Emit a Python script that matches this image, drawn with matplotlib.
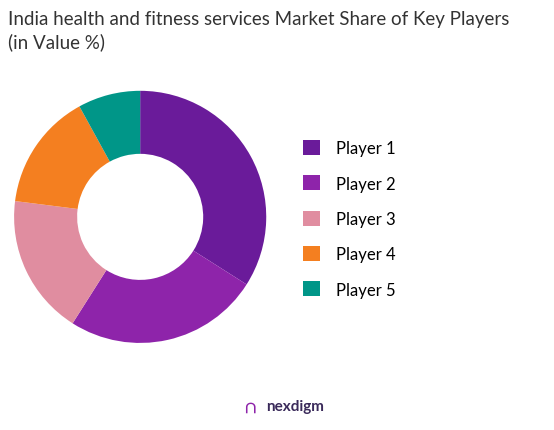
import matplotlib.pyplot as plt
from matplotlib.patches import Patch

players = ["Player 1", "Player 2", "Player 3", "Player 4", "Player 5"]
shares = [34, 25, 18, 15, 8]
colors = ["#6A1B9A", "#8E24AA", "#E08DA0", "#F47F20", "#009688"]

plt.rcParams['font.family'] = ['Lato', 'DejaVu Sans']

fig = plt.figure(figsize=(5.54, 4.31), dpi=100)
ax = fig.add_axes([0.025, 0.202, 0.456, 0.585])
ax.pie(shares, colors=colors, startangle=90, counterclock=False,
       wedgeprops=dict(width=0.5, edgecolor='white', linewidth=0))
ax.set_xlim(-1, 1)
ax.set_ylim(-1, 1)
ax.set_aspect('equal')

fig.text(0.015, 0.975, "India health and fitness services Market Share of Key Players\n(in Value %)",
         ha='left', va='top', fontsize=13.5, color='#333333', linespacing=1.4)

handles = [Patch(facecolor=c) for c in colors]
fig.legend(handles, players, loc='center left', bbox_to_anchor=(0.52, 0.49),
           frameon=False, fontsize=12, handlelength=1.0, handleheight=1.0,
           labelspacing=1.15, handletextpad=1.0)

fig.text(0.44, 0.055, "\u2229", color='#8E24AA', fontsize=14, ha='left', va='center', fontweight='bold')
fig.text(0.48, 0.055, "nexdigm", color='#3a2a5a', fontsize=11, ha='left', va='center', fontweight='bold')

fig.savefig("out.png", dpi=100, facecolor='white')
